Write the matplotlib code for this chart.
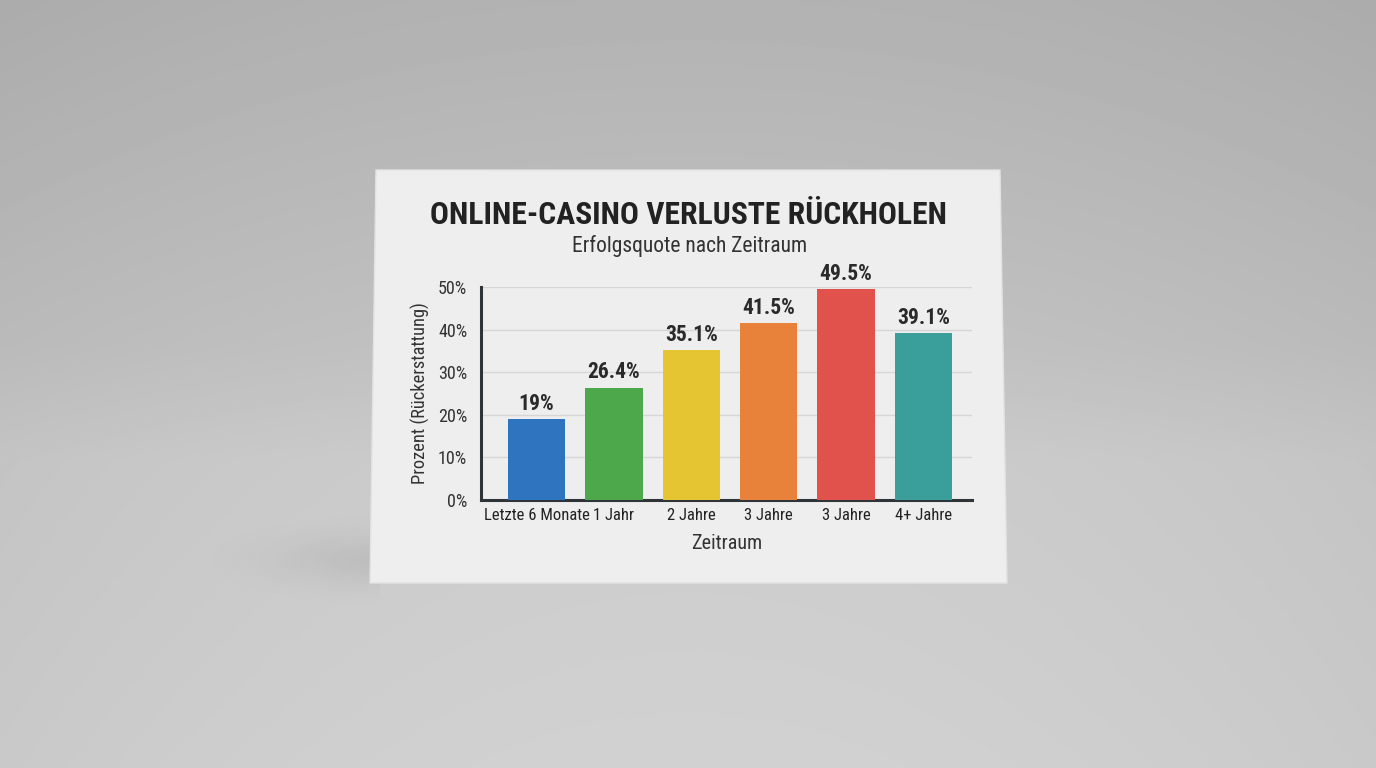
import matplotlib.pyplot as plt
from matplotlib.patches import Polygon
import numpy as np

# data
zeitraum = ['Letzte 6 Monate', '1 Jahr', '2 Jahre', '3 Jahre', '3 Jahre', '4+ Jahre']
quote = [19, 26.4, 35.1, 41.5, 49.5, 39.1]
wert_labels = ['19%', '26.4%', '35.1%', '41.5%', '49.5%', '39.1%']
farben = ['#2e74bf', '#4da84b', '#e6c533', '#e8823a', '#e0524b', '#3a9f9b']
y_ticks = [0, 10, 20, 30, 40, 50]

plt.rcParams['font.family'] = ['Roboto Condensed', 'Roboto', 'DejaVu Sans']

W, H = 1376, 768
fig = plt.figure(figsize=(W / 100, H / 100), dpi=100)

# background: grey wall + floor
bg = fig.add_axes([0, 0, 1, 1])
bg.set_xlim(0, W)
bg.set_ylim(H, 0)
bg.axis('off')
yy = np.linspace(0, 1, 300)
shade = np.interp(yy, [0, 0.45, 0.6, 1], [0.70, 0.76, 0.80, 0.82])
xx = np.linspace(-1, 1, 400)
vign = 1 - 0.04 * xx ** 2
img = shade[:, None] * vign[None, :]
bg.imshow(img, cmap='gray', vmin=0, vmax=1, extent=[0, W, H, 0], aspect='auto')

# soft shadow at the lower left of the card (fades out to the left)
gx, gy = np.meshgrid(np.linspace(0, 1, 200), np.linspace(-1, 1, 100))
mask = np.exp(-((1 - gx) ** 2) * 4 - (gy ** 2) * 3)
sh = np.zeros((100, 200, 4))
sh[..., 3] = 0.07 * mask
bg.imshow(sh, extent=[180, 380, 605, 515], aspect='auto', zorder=1)

# the card
card = Polygon([(376, 170), (1000, 170), (1007, 583), (370, 583)], closed=True,
               facecolor='#eeeeee', edgecolor='#e2e2e2', lw=1, zorder=2)
bg.add_patch(card)

# title
fig.text(688 / W, 1 - 215 / H, 'ONLINE-CASINO VERLUSTE RÜCKHOLEN', ha='center', va='center',
         fontsize=22.8, fontweight='bold', color='#222222')
fig.text(690 / W, 1 - 246 / H, 'Erfolgsquote nach Zeitraum', ha='center', va='center',
         fontsize=15.5, color='#333333')

# chart
ax = fig.add_axes([481 / W, 1 - 500 / H, (972 - 481) / W, (500 - 287) / H])
ax.patch.set_alpha(0)
x = np.arange(len(zeitraum))
bars = ax.bar(x, quote, width=0.74, color=farben, zorder=3)
ax.set_xlim(-0.72, 5.63)
ax.set_ylim(0, 50)
ax.set_yticks(y_ticks)
ax.set_yticklabels([f'{t}%' for t in y_ticks], fontsize=13, color='#333333')
ax.set_xticks(x)
ax.set_xticklabels(zeitraum, fontsize=12, color='#222222')
ax.tick_params(length=0, pad=10)
ax.tick_params(axis='x', pad=6)
ax.grid(axis='y', color='#d6d6d6', lw=1, zorder=0)
for s in ['top', 'right']:
    ax.spines[s].set_visible(False)
for s in ['left', 'bottom']:
    ax.spines[s].set_color('#2f3438')
    ax.spines[s].set_linewidth(2.2)

for b, lab in zip(bars, wert_labels):
    ax.text(b.get_x() + b.get_width() / 2, b.get_height() + 1.0, lab, ha='center', va='bottom',
            fontsize=15.5, fontweight='bold', color='#2a2a2a', clip_on=False)

ax.set_xlabel('Zeitraum', fontsize=14.5, color='#333333', labelpad=8)
ax.set_ylabel('Prozent (Rückerstattung)', fontsize=13.2, color='#333333', labelpad=6)

fig.savefig('out.png', dpi=100)
